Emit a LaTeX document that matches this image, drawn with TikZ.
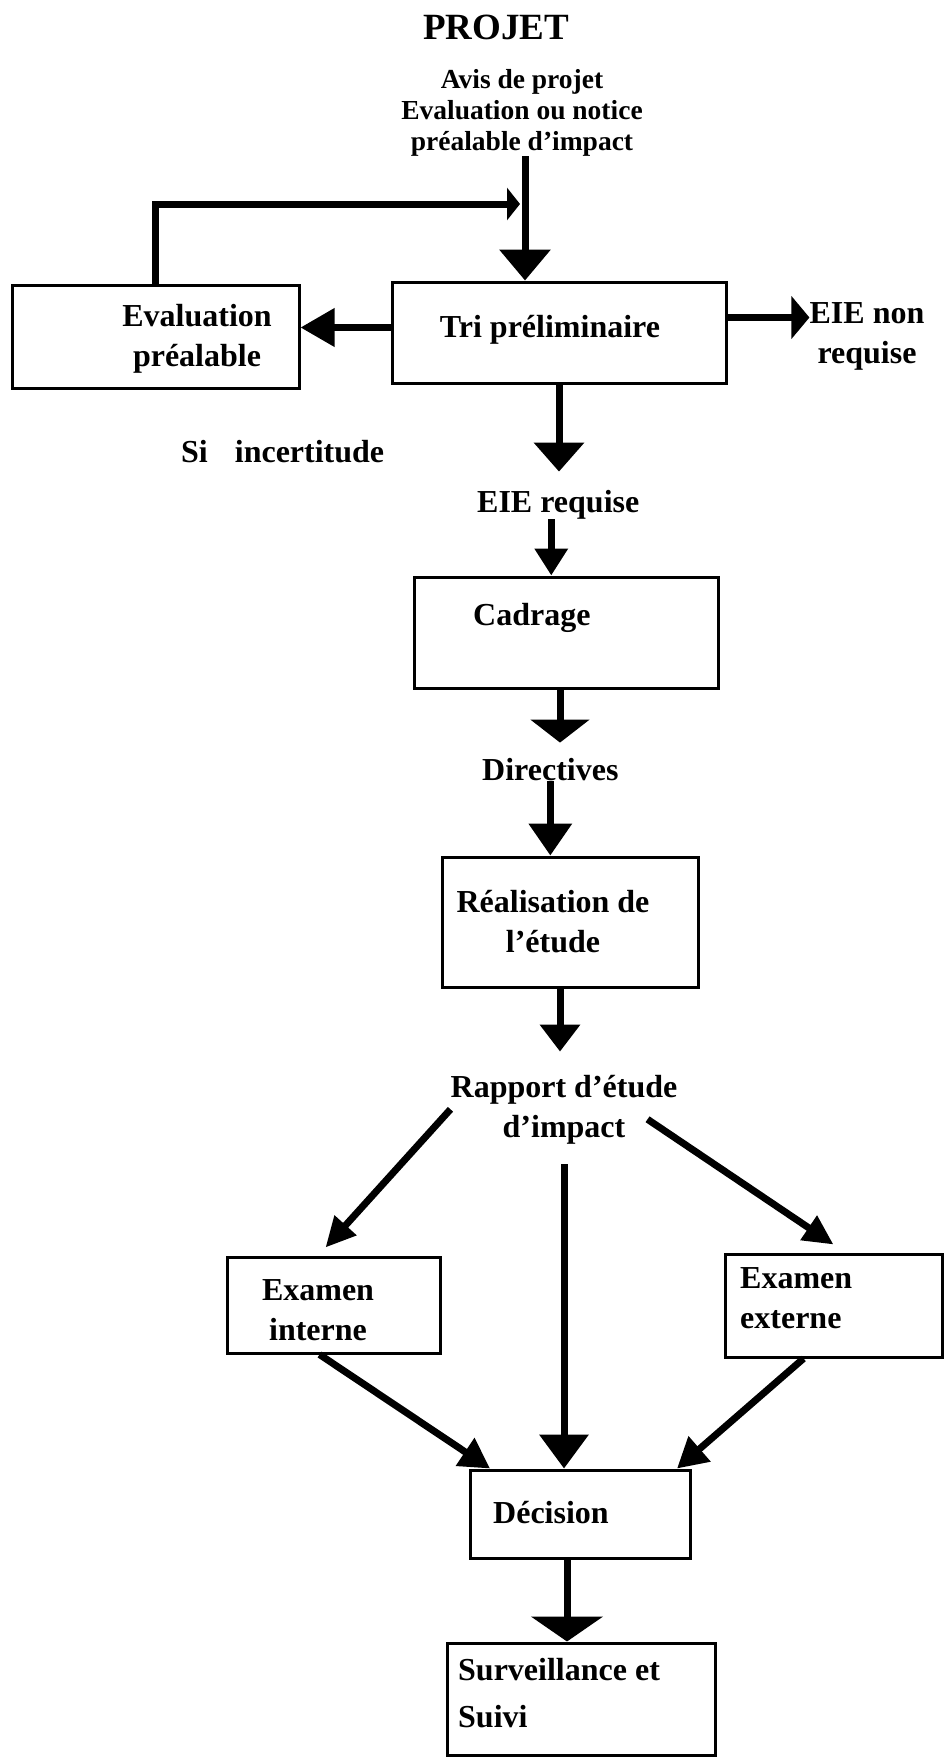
\documentclass[tikz,border=0pt]{standalone}
\usepackage{fontspec}
\setmainfont{Liberation Serif}
\usetikzlibrary{arrows.meta, fit, calc}

\begin{document}
\begin{tikzpicture}[x=1pt, y=-1pt,
  txt/.style={font=\bfseries\fontsize{32}{40}\selectfont, inner sep=0pt, anchor=base},
  box/.style={draw, line width=3pt, inner sep=0pt},
  flow/.style 2 args={line width=7pt, -{Triangle[length=#1, width=#2]}}]
\useasboundingbox (0,0) rectangle (944,1758);

% Title and notice
\node[txt, font=\bfseries\fontsize{37}{44}\selectfont] (projet) at (496,40) {PROJET};
\node[txt, font=\bfseries\fontsize{27.5}{31}\selectfont, align=center] (avis) at (522,150) {Avis de projet\\Evaluation ou notice\\préalable d’impact};

% Boxes
\node[box, fit={(12,285) (299,388)}] (eval) {};
\node[box, fit={(392,282) (726,383)}] (tri) {};
\node[box, fit={(414,577) (718,688)}] (cad) {};
\node[box, fit={(442,857) (698,987)}] (rea) {};
\node[box, fit={(227,1257) (440,1353)}] (int) {};
\node[box, fit={(725,1254) (942,1357)}] (ext) {};
\node[box, fit={(470,1470) (690,1558)}] (dec) {};
\node[box, fit={(447,1643) (715,1755)}] (surv) {};

% Texts (multi-line nodes sit on their last baseline)
\node[txt, align=center] (evaltxt) at (197,366) {Evaluation\\préalable};
\node[txt] (tritxt) at (550,337) {Tri préliminaire};
\node[txt, align=center] (nonreq) at (867,363) {EIE non\\requise};
\node[txt, anchor=base west] (incert) at (181,462) {Si\hspace{27pt}incertitude};
\node[txt, anchor=base west] (req) at (477,512) {EIE requise};
\node[txt, anchor=base west] (cadtxt) at (473,625) {Cadrage};
\node[txt, anchor=base west] (dir) at (482,780) {Directives};
\node[txt, align=center] (reatxt) at (553,952) {Réalisation de\\l’étude};
\node[txt, align=center] (rap) at (564,1137) {Rapport d’étude\\d’impact};
\node[txt, align=center] (inttxt) at (318,1340) {Examen\\interne};
\node[txt, anchor=base west, align=left] (exttxt) at (740,1328) {Examen\\externe};
\node[txt, anchor=base west] (dectxt) at (493,1523) {Décision};
\node[txt, anchor=base west, align=left, font=\bfseries\fontsize{32}{47}\selectfont] (survtxt) at (458,1727) {Surveillance et\\Suivi};

% Connectors
\coordinate (join) at (520,204);
\draw[flow={31pt}{50pt}] ([xshift=3pt]avis.south) -- ([xshift=3pt]avis.south |- tri.north);
\draw[flow={13pt}{32pt}] (eval.north) |- (join); % back to notice
\draw[flow={34pt}{37pt}] ([yshift=5pt]tri.west) -- ([yshift=5pt]tri.west -| eval.east);
\draw[flow={18pt}{42pt}] ([yshift=15pt]tri.east) -- ([yshift=15pt]tri.east -| nonreq.west);
\draw[flow={29pt}{49pt}] (tri.south) -- ([yshift=18pt]tri.south |- req.north);
\draw[flow={27pt}{32pt}] ([xshift=-7pt]req.south) -- ([xshift=-7pt]req.south |- cad.north);
\draw[flow={23pt}{58pt}] ([xshift=-6pt]cad.south) -- ([xshift=-6pt, yshift=15pt]cad.south |- dir.north);
\draw[flow={32pt}{42pt}] (dir.south) -- (dir.south |- rea.north);
\draw[flow={27pt}{39pt}] ([xshift=-10pt]rea.south) -- ([xshift=-10pt, yshift=23pt]rea.south |- rap.north);
\draw[flow={30pt}{28pt}] (rap.west) -- ([xshift=-8pt, yshift=8pt]int.north);
\draw[flow={30pt}{28pt}] ([xshift=-30pt, yshift=-10pt]rap.east) -- ([yshift=8pt]ext.north);
\draw[flow={34pt}{48pt}] ([yshift=-20pt]rap.south) -- (rap.south |- dec.north);
\draw[flow={30pt}{32pt}] ([xshift=-14pt]int.south) -- ([xshift=-90pt]dec.north);
\draw[flow={30pt}{32pt}] ([xshift=-30pt]ext.south) -- ([xshift=97pt]dec.north);
\draw[flow={25pt}{71pt}] ([xshift=-13pt]dec.south) -- ([xshift=-13pt]dec.south |- surv.north);
\end{tikzpicture}
\end{document}
